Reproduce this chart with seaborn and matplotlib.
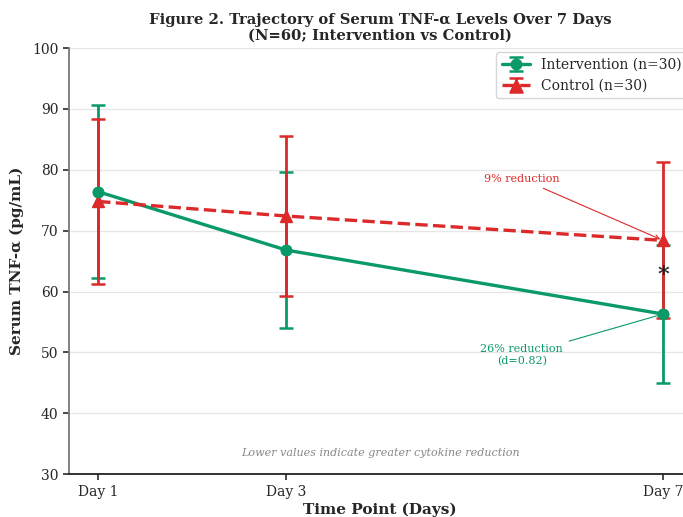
import numpy as np
import pandas as pd
import matplotlib
matplotlib.use("Agg")
import matplotlib.pyplot as plt
import seaborn as sns

# data (mean +/- SD)
days = [1, 3, 7]
day_labels = ["Day 1", "Day 3", "Day 7"]
interv_mean = [76.4, 66.8, 56.3]
interv_sd = [14.2, 12.8, 11.4]
control_mean = [74.8, 72.4, 68.4]
control_sd = [13.6, 13.2, 12.8]

green = "#0a9a68"
red = "#dc2a2a"

sns.set_theme(style="ticks")
plt.rcParams['font.family'] = ['DejaVu Serif']

df = pd.DataFrame({
    'day': days * 2,
    'tnf': interv_mean + control_mean,
    'group': ['Intervention (n=30)'] * 3 + ['Control (n=30)'] * 3,
})

fig = plt.figure(figsize=(6.83, 5.17), dpi=100)
ax = fig.add_axes([0.101, 0.083, 0.911, 0.824])

ax.yaxis.grid(True, color="#e6e6e6", lw=0.9, zorder=0)

# error bars with markers (legend handles)
ax.errorbar(days, interv_mean, yerr=interv_sd, fmt='o-', color=green, lw=2.4,
            ms=7.5, capsize=5, capthick=1.8, elinewidth=2, label='Intervention (n=30)', zorder=3)
ax.errorbar(days, control_mean, yerr=control_sd, fmt='^--', color=red, lw=2.4,
            ms=8, capsize=5, capthick=1.8, elinewidth=2, label='Control (n=30)', zorder=4)

# green markers drawn again on top of the red bars
sub = df[df['group'] == 'Intervention (n=30)']
sns.scatterplot(data=sub, x='day', y='tnf', color=green, s=70, edgecolor=green,
                linewidth=0, ax=ax, zorder=5, legend=False)

ax.set_xlim(0.69, 7.3)
ax.set_ylim(30, 100)
ax.set_yticks(np.arange(30, 101, 10))
ax.set_xticks(days)
ax.set_xticklabels(day_labels)
ax.tick_params(labelsize=10, length=4, color="#333333")

sns.despine(ax=ax)
ax.spines['left'].set_color("#777777")
ax.spines['left'].set_linewidth(1.3)
ax.spines['bottom'].set_color("#222222")
ax.spines['bottom'].set_linewidth(1.3)

ax.set_xlabel('Time Point (Days)', fontsize=11, fontweight='bold', labelpad=3)
ax.set_ylabel('Serum TNF-α (pg/mL)', fontsize=11, fontweight='bold', labelpad=6)
ax.set_title('Figure 2. Trajectory of Serum TNF-α Levels Over 7 Days\n(N=60; Intervention vs Control)',
             fontsize=10.6, fontweight='bold', pad=6)

ax.annotate('9% reduction', xy=(7, control_mean[2]), xytext=(5.5, 78.5),
            ha='center', va='center', fontsize=8, color=red,
            arrowprops=dict(arrowstyle='->', color=red, lw=0.8))
ax.annotate('26% reduction\n(d=0.82)', xy=(7, interv_mean[2]), xytext=(5.5, 49.6),
            ha='center', va='center', fontsize=8, color=green,
            arrowprops=dict(arrowstyle='-', color=green, lw=0.8))
ax.text(7, 62.7, '*', ha='center', va='center', fontsize=16, fontweight='bold',
        color='#222222', zorder=6)

ax.text(0.5, 0.05, 'Lower values indicate greater cytokine reduction', transform=ax.transAxes,
        ha='center', va='center', fontsize=8, style='italic', color='#888888')

ax.legend(loc='upper right', fontsize=10, frameon=True, edgecolor='#cccccc',
          borderaxespad=0.3, handlelength=2)

fig.savefig('out.png', dpi=100)
